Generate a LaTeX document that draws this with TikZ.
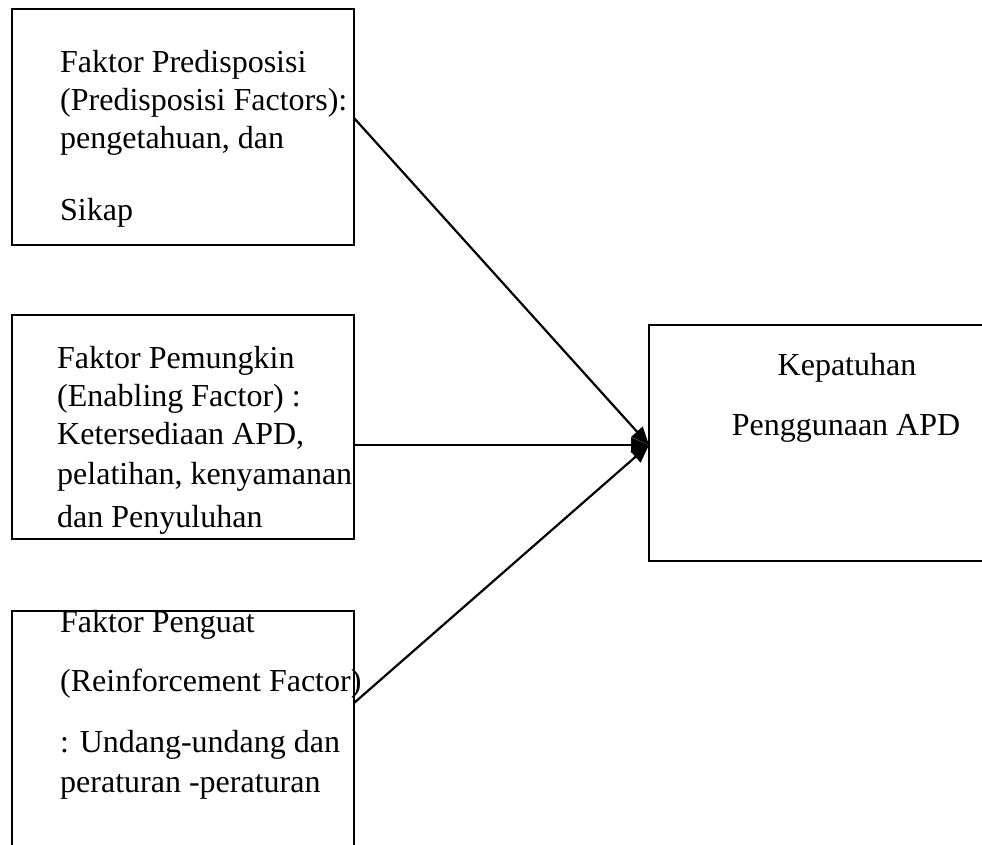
\documentclass[tikz,border=0pt]{standalone}
\usepackage{fontspec}
\setmainfont{Liberation Serif}
\usetikzlibrary{arrows.meta}
\begin{document}
\begin{tikzpicture}[x=1pt,y=-1pt,
  box/.style={draw,line width=2.2pt,rectangle,inner sep=0pt},
  txt/.style={anchor=base west,inner sep=0pt,font=\fontsize{32}{36}\selectfont},
  ctxt/.style={anchor=base,inner sep=0pt,font=\fontsize{32}{36}\selectfont},
  conn/.style={line width=2.2pt,-{Triangle[length=18pt,width=15pt]}}]
\useasboundingbox (0,0) rectangle (982,844);
\clip (0,0) rectangle (982,844);
% boxes
\node[box,minimum width=342pt,minimum height=236pt] (b1) at (183,127) {};
\node[box,minimum width=342pt,minimum height=224pt] (b2) at (183,427) {};
\node[box,minimum width=342pt,minimum height=259pt] (b3) at (183,740.5) {};
\node[box,minimum width=351pt,minimum height=236pt] (b4) at (824.5,443) {};
% box 1 text
\node[txt] (t11) at (60,72) {Faktor Predisposisi};
\node[txt] (t12) at (60,110) {(Predisposisi Factors):};
\node[txt] (t13) at (60,148) {pengetahuan, dan};
\node[txt] (t14) at (60,220) {Sikap};
% box 2 text
\node[txt] (t21) at (57,368) {Faktor Pemungkin};
\node[txt] (t22) at (57,406) {(Enabling Factor) :};
\node[txt] (t23) at (57,444) {Ketersediaan APD,};
\node[txt] (t24) at (57,484) {pelatihan, kenyamanan};
\node[txt] (t25) at (57,527) {dan Penyuluhan};
% box 3 text
\node[txt] (t31) at (60,632) {Faktor Penguat};
\node[txt] (t32) at (60,691) {(Reinforcement Factor)};
\node[txt] (t33) at (60,752) {: Undang-undang dan};
\node[txt] (t34) at (60,792) {peraturan -peraturan};
% box 4 text
\node[ctxt] (t41) at (847,375) {Kepatuhan};
\node[ctxt] (t42) at (846,435) {Penggunaan APD};
% connectors
\coordinate (s1) at (354,118);
\coordinate (s2) at (354,445);
\coordinate (s3) at (354,703);
\coordinate (tg) at (649,445);
\draw[conn] (s1) -- (tg);
\draw[conn] (s2) -- (tg);
\draw[conn] (s3) -- (tg);
\end{tikzpicture}
\end{document}
